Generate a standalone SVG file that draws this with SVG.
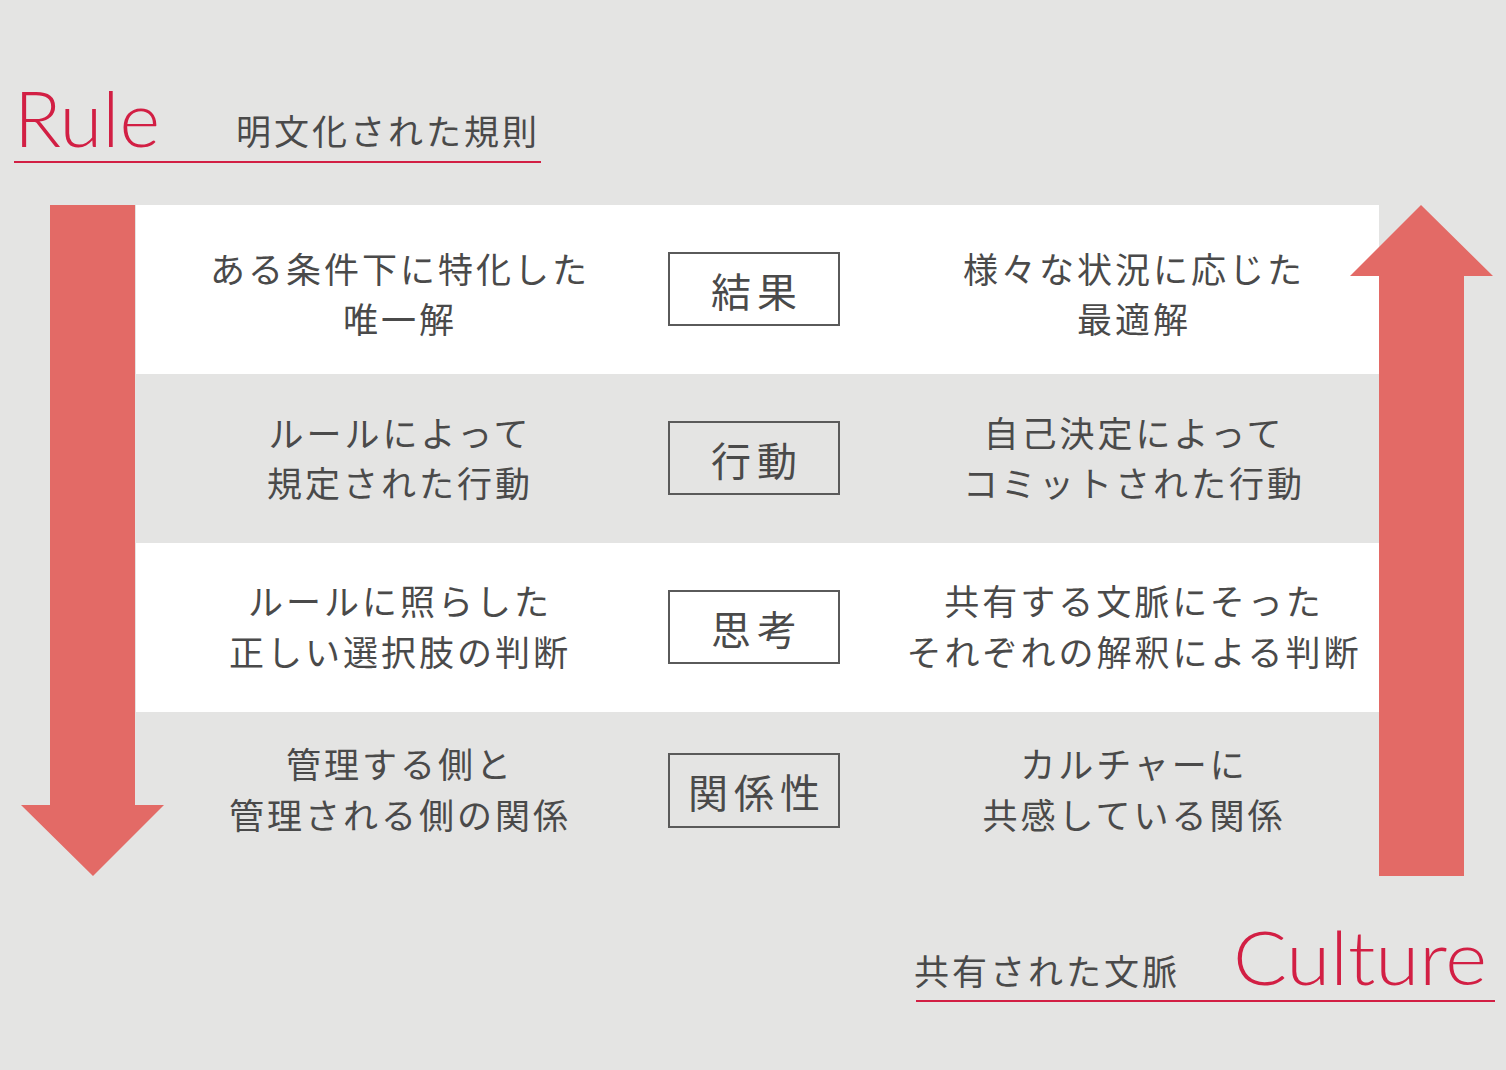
<svg xmlns="http://www.w3.org/2000/svg" width="1506" height="1070" viewBox="0 0 1506 1070">
<style>
.t{font-family:"Noto Sans CJK JP","Noto Sans",sans-serif;font-size:35px;fill:#4a4a4a;text-anchor:middle;letter-spacing:3px}
.b{font-family:"Noto Sans CJK JP","Noto Sans",sans-serif;font-size:40px;fill:#4a4a4a;text-anchor:middle;letter-spacing:6px}
.box{fill:none;stroke:#5a5a5a;stroke-width:2}
.en{font-family:Lato,"Noto Sans",sans-serif;font-weight:300;fill:#d21f44}
.jp{font-family:"Noto Sans CJK JP",sans-serif;font-size:35px;fill:#4a4a4a;letter-spacing:3px}
.arrow{fill:#e36a66}
.line{stroke:#d21f44;stroke-width:2}
</style>
<rect width="1506" height="1070" fill="#e4e4e3"/>
<g id="bands">
<rect x="136" y="205" width="1243" height="169" fill="#ffffff"/>
<rect x="136" y="543" width="1243" height="169" fill="#ffffff"/>
</g>
<g id="rule-title">
<text class="en" x="14" y="147" font-size="76" textLength="146" lengthAdjust="spacingAndGlyphs">Rule</text>
<text class="jp" x="236" y="145">明文化された規則</text>
<line class="line" x1="14" y1="162" x2="541" y2="162"/>
</g>
<g id="culture-title">
<text class="jp" x="914" y="985">共有された文脈</text>
<text class="en" x="1233" y="985" font-size="74" textLength="254" lengthAdjust="spacingAndGlyphs">Culture</text>
<line class="line" x1="916" y1="1001" x2="1495" y2="1001"/>
</g>
<g id="connectors">
<polygon id="arrow-down" class="arrow" points="50,205 135,205 135,805 164,805 93,876 21,805 50,805"/>
<polygon id="arrow-up" class="arrow" points="1379,876 1464,876 1464,276 1493,276 1421,205 1350,276 1379,276"/>
</g>
<g id="node-result">
<text class="t" x="400" y="283">ある条件下に特化した</text>
<text class="t" x="400" y="333">唯一解</text>
<rect class="box" x="669" y="253" width="170" height="72"/>
<text class="b" x="757" y="307">結果</text>
<text class="t" x="1134" y="283">様々な状況に応じた</text>
<text class="t" x="1134" y="333">最適解</text>
</g>
<g id="node-action">
<text class="t" x="400" y="447">ルールによって</text>
<text class="t" x="400" y="497">規定された行動</text>
<rect class="box" x="669" y="422" width="170" height="72"/>
<text class="b" x="757" y="476">行動</text>
<text class="t" x="1134" y="447">自己決定によって</text>
<text class="t" x="1134" y="497">コミットされた行動</text>
</g>
<g id="node-thinking">
<text class="t" x="400" y="615">ルールに照らした</text>
<text class="t" x="400" y="666">正しい選択肢の判断</text>
<rect class="box" x="669" y="591" width="170" height="72"/>
<text class="b" x="757" y="645">思考</text>
<text class="t" x="1134" y="615">共有する文脈にそった</text>
<text class="t" x="1134" y="666">それぞれの解釈による判断</text>
</g>
<g id="node-relation">
<text class="t" x="400" y="778">管理する側と</text>
<text class="t" x="400" y="829">管理される側の関係</text>
<rect class="box" x="669" y="754" width="170" height="73"/>
<text class="b" x="757" y="808">関係性</text>
<text class="t" x="1134" y="778">カルチャーに</text>
<text class="t" x="1134" y="829">共感している関係</text>
</g>
</svg>
